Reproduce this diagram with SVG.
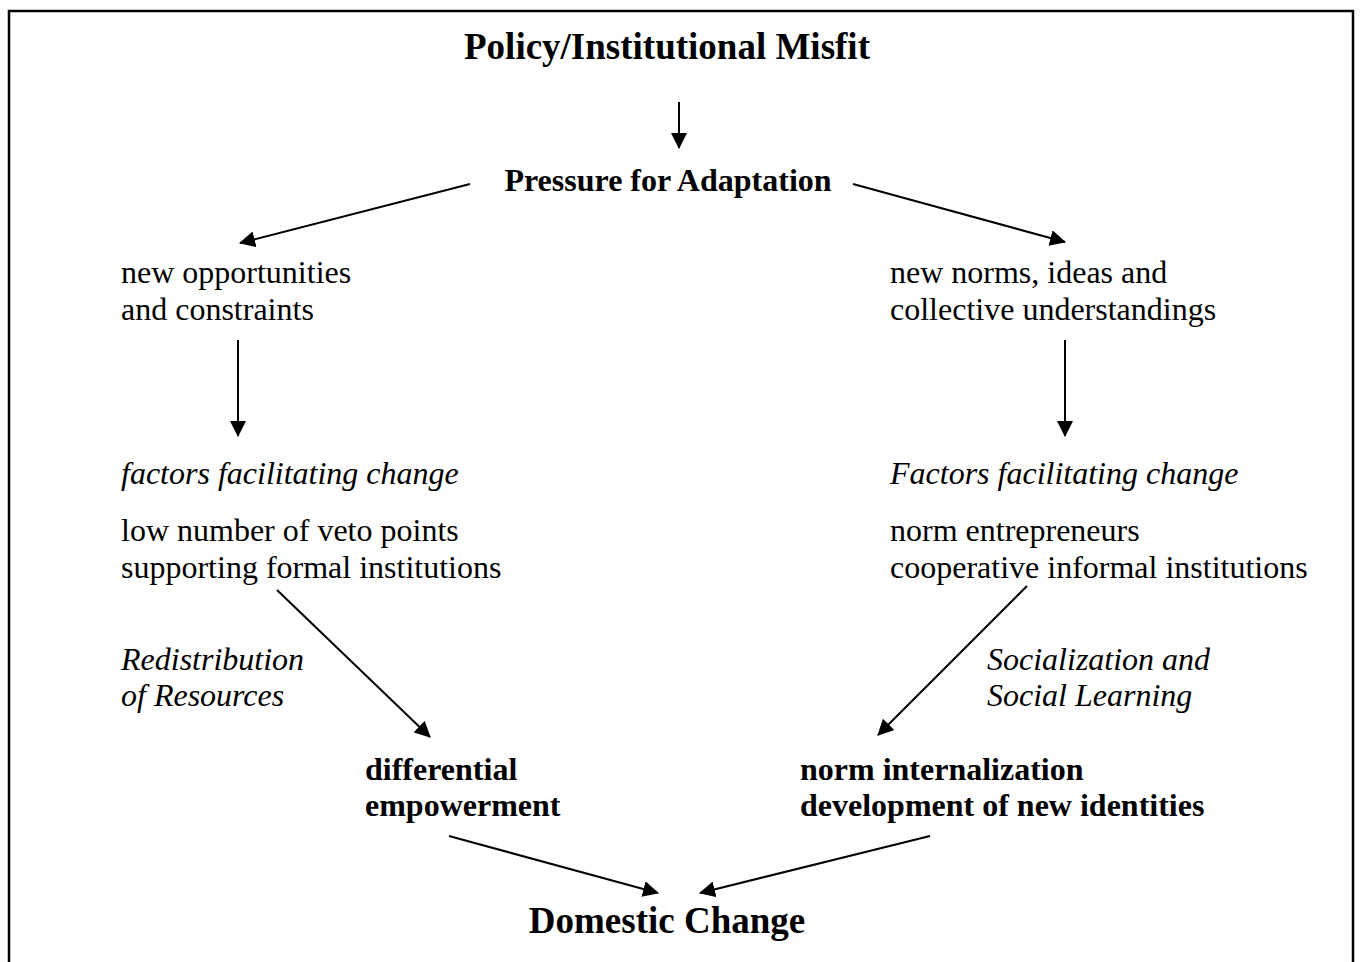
<svg xmlns="http://www.w3.org/2000/svg" width="1360" height="962" viewBox="0 0 1360 962">
<defs>
<marker id="ah" markerWidth="16" markerHeight="16" viewBox="0 0 16 16" refX="15" refY="8" orient="auto" markerUnits="userSpaceOnUse">
<path d="M0,0 L16,8 L0,16 Z" fill="#000"/>
</marker>
<style>
text{font-family:"Liberation Serif","Times New Roman",serif;fill:#000;font-size:32px}
.b{font-weight:bold}
.i{font-style:italic}
.t{font-size:37px;font-weight:bold}
.c{text-anchor:middle}
.con line{stroke:#000;stroke-width:2;marker-end:url(#ah)}
</style>
</defs>
<rect width="1360" height="962" fill="#fff"/>
<rect x="9" y="11" width="1344" height="960" fill="none" stroke="#000" stroke-width="2.5"/>
<g id="misfit"><text class="t c" x="667" y="59">Policy/Institutional Misfit</text></g>
<g id="pressure"><text class="b c" x="668" y="191">Pressure for Adaptation</text></g>
<g id="opportunities"><text x="121" y="283">new opportunities</text><text x="121" y="320">and constraints</text></g>
<g id="norms"><text x="890" y="283">new norms, ideas and</text><text x="890" y="320">collective understandings</text></g>
<g id="factors-left"><text class="i" x="121" y="484">factors facilitating change</text><text x="121" y="541">low number of veto points</text><text x="121" y="578">supporting formal institutions</text></g>
<g id="factors-right"><text class="i" x="890" y="484">Factors facilitating change</text><text x="890" y="541">norm entrepreneurs</text><text x="890" y="578">cooperative informal institutions</text></g>
<g id="redistribution"><text class="i" x="121" y="670">Redistribution</text><text class="i" x="121" y="706">of Resources</text></g>
<g id="socialization"><text class="i" x="987" y="670">Socialization and</text><text class="i" x="987" y="706">Social Learning</text></g>
<g id="empowerment"><text class="b" x="365" y="780">differential</text><text class="b" x="365" y="816">empowerment</text></g>
<g id="internalization"><text class="b" x="800" y="780">norm internalization</text><text class="b" x="800" y="816">development of new identities</text></g>
<g id="domestic"><text class="t c" x="667" y="933">Domestic Change</text></g>
<g class="con" id="connectors">
<line x1="679" y1="102" x2="679" y2="148"/>
<line x1="470" y1="184" x2="240" y2="243"/>
<line x1="853" y1="184" x2="1065" y2="242"/>
<line x1="238" y1="340" x2="238" y2="436"/>
<line x1="1065" y1="340" x2="1065" y2="436"/>
<line x1="277" y1="590" x2="430" y2="737"/>
<line x1="1027" y1="586" x2="878" y2="735"/>
<line x1="449" y1="836" x2="658" y2="893"/>
<line x1="930" y1="836" x2="700" y2="893"/>
</g>
</svg>
